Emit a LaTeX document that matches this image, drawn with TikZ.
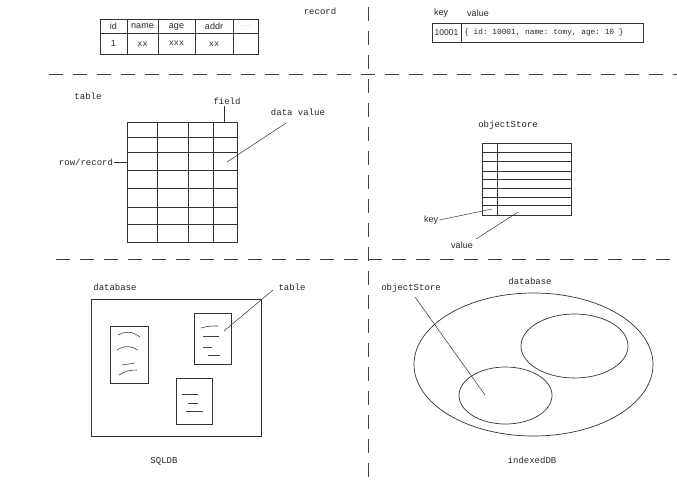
\documentclass[tikz,border=0pt]{standalone}
\usepackage{fontspec}
\setmainfont{Liberation Sans}
\setmonofont{Liberation Mono}
\usetikzlibrary{positioning}
\tikzset{
  sketch/.style={x=1pt,y=-1pt,line width=0.7pt,draw=black!80},
  every node/.style={inner sep=1pt,text=black!85},
  mono/.style={font=\ttfamily\fontsize{9}{10}\selectfont},
  sans/.style={font=\fontsize{9}{10}\selectfont},
  cell/.style={font=\fontsize{9}{10}\selectfont},
  small mono/.style={font=\ttfamily\fontsize{7.8}{9}\selectfont},
  divider/.style={draw=black!75,line width=0.9pt,dash pattern=on 14pt off 10pt},
  pointer/.style={draw=black!80,line width=0.5pt},
  squiggle/.style={draw=black!75,line width=0.6pt}}

\begin{document}
\begin{tikzpicture}[sketch]
  \useasboundingbox (0,0) rectangle (677,483);
  % dividers
  \draw[divider] (368,7) -- (368,483);
  \draw[divider] (49,74) -- (677,74);
  \draw[divider] (56,259) -- (677,259);

  % record
  \draw (100,19) rectangle (258,54);
  \draw (100,33) -- (258,33);
  \foreach \x in {127,158,195,233} \draw (\x,19) -- (\x,54);
  \node[cell] (hid) at (113.5,26) {id};
  \node[cell] (hname) at (142.5,26) {name};
  \node[cell] (hage) at (176.5,27) {age};
  \node[cell] (haddr) at (214,26) {addr};
  \node[cell,text=black!45] (hmore) at (245.5,26) {$\cdots$};
  \node[cell] (vid) at (113.5,43.5) {1};
  \node[small mono,font=\ttfamily\fontsize{8.5}{9}\selectfont] (vname) at (142.5,44) {xx};
  \node[small mono,font=\ttfamily\fontsize{8.5}{9}\selectfont] (vage) at (176.5,43) {xxx};
  \node[small mono,font=\ttfamily\fontsize{8.5}{9}\selectfont] (vaddr) at (214,44) {xx};
  \node[mono] (record) at (320,11) {record};

  % key/value pair
  \node[sans] (keyhead) at (441,13) {key};
  \node[sans] (valhead) at (478,13) {value};
  \draw (432,23) rectangle (643,42);
  \draw (461,23) -- (461,42);
  \node[font=\fontsize{8.5}{9}\selectfont,inner sep=0pt] (keycell) at (446.5,32.5) {10001};
  \node[small mono,anchor=west,inner sep=0pt] (valcell) at (464,32.5) {\{ id: 10001, name: tomy, age: 10 \}};

  % table
  \node[mono] (tablelbl) at (88,96) {table};
  \draw (127,122) rectangle (237,242);
  \foreach \y in {137,152,170,188,207,224} \draw (127,\y) -- (237,\y);
  \foreach \x in {157,188,213} \draw (\x,122) -- (\x,242);
  \node[mono] (field) at (227,101) {field};
  \coordinate (fieldpt) at (224,122);
  \draw[pointer] (fieldpt |- field.south) -- (fieldpt);
  \node[mono] (datavalue) at (298,112) {data value};
  \coordinate (datapt) at (227,162);
  \draw[pointer] (286,123) -- (datapt);
  \node[mono] (rowrec) at (86,162) {row/record};
  \coordinate (rowpt) at (127,162);
  \draw[pointer] (rowrec.east) -- (rowpt);

  % objectStore
  \node[mono] (storelbl) at (508,125) {objectStore};
  \draw (482,143) rectangle (571,215);
  \foreach \y in {152,161,171,179,188,197,205} \draw (482,\y) -- (571,\y);
  \draw (497,143) -- (497,215);
  \node[sans] (keylbl) at (431,220) {key};
  \coordinate (keypt) at (492,209);
  \draw[pointer] (keylbl.east) -- (keypt);
  \node[sans] (vallbl) at (462,245) {value};
  \coordinate (valpt) at (518,212);
  \draw[pointer] (476,239) -- (valpt);

  % SQLDB
  \node[mono] (sqldbname) at (115,287) {database};
  \draw (91,299) rectangle (261,436);
  \draw (110,326) rectangle (148,383);
  \draw (194,313) rectangle (231,364);
  \draw (176,378) rectangle (212,424);
  \draw[squiggle] (118,335) .. controls (126,331) and (132,331) .. (140,337);
  \draw[squiggle] (117,350) .. controls (124,345) and (132,346) .. (138,350);
  \draw[squiggle] (122,365) -- (135,363);
  \draw[squiggle] (119,375) .. controls (125,371) and (130,370) .. (137,370);
  \draw[squiggle] (201,328) .. controls (207,326) and (212,326) .. (218,326);
  \draw[squiggle] (203,336) -- (219,336);
  \draw[squiggle] (203,347) -- (212,347);
  \draw[squiggle] (208,355) -- (220,355);
  \draw[squiggle] (182,394) -- (198,394);
  \draw[squiggle] (188,403) -- (198,403);
  \draw[squiggle] (186,411) -- (203,411);
  \node[mono] (sqltable) at (292,287) {table};
  \coordinate (sqlpt) at (224,331);
  \draw[pointer] (273,290) -- (sqlpt);
  \node[mono] (sqldb) at (164,461) {SQLDB};

  % indexedDB
  \node[mono] (idbname) at (530,281) {database};
  \draw (533.5,364.5) ellipse [x radius=119.5pt,y radius=71.5pt];
  \draw (574.5,346) ellipse [x radius=53.5pt,y radius=32pt];
  \draw (505.5,395.5) ellipse [x radius=46.5pt,y radius=28.5pt];
  \node[mono] (idbstore) at (411,288) {objectStore};
  \coordinate (idbpt) at (485,395);
  \draw[pointer] (415,297) -- (idbpt);
  \node[mono] (idb) at (532,460) {indexedDB};
\end{tikzpicture}
\end{document}
